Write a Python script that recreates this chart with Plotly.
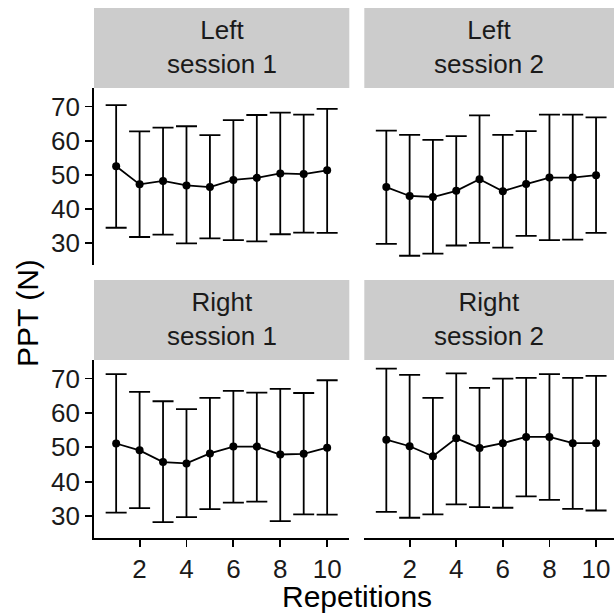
import plotly.graph_objects as go

W = H = 614

repetitions = list(range(1, 11))

strip_labels = ["Left<br>session 1", "Left<br>session 2", "Right<br>session 1", "Right<br>session 2"]

left_s1_mean = [52.5, 47.2, 48.2, 46.9, 46.4, 48.5, 49.1, 50.4, 50.2, 51.3]
left_s1_upper = [70.4, 62.7, 63.8, 64.2, 61.6, 66.0, 67.5, 68.2, 67.6, 69.3]
left_s1_lower = [34.5, 31.8, 32.5, 29.9, 31.4, 30.9, 30.5, 32.6, 33.1, 33.0]

left_s2_mean = [46.4, 43.8, 43.5, 45.3, 48.7, 45.2, 47.3, 49.2, 49.2, 49.9]
left_s2_upper = [62.9, 61.7, 60.2, 61.3, 67.4, 61.7, 62.8, 67.6, 67.6, 66.8]
left_s2_lower = [29.8, 26.3, 26.9, 29.3, 30.1, 28.7, 32.1, 30.9, 31.0, 33.0]

right_s1_mean = [51.1, 49.1, 45.7, 45.3, 48.2, 50.2, 50.2, 47.9, 48.1, 49.9]
right_s1_upper = [71.3, 66.1, 63.4, 61.1, 64.4, 66.4, 65.9, 67.0, 65.8, 69.5]
right_s1_lower = [31.0, 32.3, 28.2, 29.7, 32.0, 33.9, 34.2, 28.5, 30.5, 30.4]

right_s2_mean = [52.2, 50.3, 47.4, 52.6, 49.8, 51.2, 53.0, 53.0, 51.2, 51.2]
right_s2_upper = [72.9, 71.1, 64.4, 71.5, 67.3, 70.0, 70.2, 71.3, 70.2, 70.8]
right_s2_lower = [31.2, 29.5, 30.5, 33.4, 32.6, 32.4, 35.7, 34.7, 32.1, 31.6]

y_ticks = [30, 40, 50, 60, 70]
x_ticks = [2, 4, 6, 8, 10]

series = [
    (left_s1_mean, left_s1_upper, left_s1_lower),
    (left_s2_mean, left_s2_upper, left_s2_lower),
    (right_s1_mean, right_s1_upper, right_s1_lower),
    (right_s2_mean, right_s2_upper, right_s2_lower),
]

def px_x(p):
    return p / W

def px_y(p):
    return 1 - p / H

cols = [(94, 349.3), (364.3, 614)]
rows = [(88, 265), (360, 538)]
strips = [(8, 88), (280, 360)]
xranges = [[0.055, 10.945], [0.055, 10.77]]
yrange = [23.6, 75.4]

fig = go.Figure()
FONT = "Liberation Sans, Arial, sans-serif"

idx = 0
shapes = []
annotations = []
for r in range(2):
    for c in range(2):
        idx += 1
        mean, up, lo = series[idx - 1]
        plus = [u - m for u, m in zip(up, mean)]
        minus = [m - l for m, l in zip(mean, lo)]
        xa = "x" if idx == 1 else f"x{idx}"
        ya = "y" if idx == 1 else f"y{idx}"
        fig.add_trace(go.Scatter(
            x=repetitions, y=mean, mode="lines+markers",
            line=dict(color="black", width=1.8),
            marker=dict(color="black", size=8),
            error_y=dict(type="data", array=plus, arrayminus=minus, symmetric=False,
                         color="black", thickness=1.8, width=10.5),
            xaxis=xa, yaxis=ya, showlegend=False, cliponaxis=False,
            hoverinfo="skip",
        ))
        x0, x1 = cols[c]
        yt, yb = rows[r]
        bottom = (r == 1)
        left = (c == 0)
        xkey = "xaxis" if idx == 1 else f"xaxis{idx}"
        ykey = "yaxis" if idx == 1 else f"yaxis{idx}"
        fig.layout[xkey] = dict(
            domain=[px_x(x0), px_x(x1)], range=xranges[c], anchor=ya,
            showgrid=False, zeroline=False,
            showline=bottom, linecolor="black", linewidth=1.8,
            ticks="outside" if bottom else "", ticklen=7, tickwidth=1.8, tickcolor="black",
            tickvals=x_ticks, showticklabels=bottom,
            tickfont=dict(family=FONT, size=26, color="#1a1a1a"),
        )
        fig.layout[ykey] = dict(
            domain=[px_y(yb), px_y(yt)], range=yrange, anchor=xa,
            showgrid=False, zeroline=False,
            showline=left, linecolor="black", linewidth=1.8,
            ticks="outside" if left else "", ticklen=7, tickwidth=1.8, tickcolor="black",
            tickvals=y_ticks, showticklabels=left,
            tickfont=dict(family=FONT, size=26, color="#1a1a1a"),
        )
        st, sb = strips[r]
        shapes.append(dict(type="rect", xref="paper", yref="paper",
                           x0=px_x(x0), x1=px_x(x1), y0=px_y(sb), y1=px_y(st),
                           fillcolor="#CCCCCC", line=dict(width=0), layer="below"))
        cx = (x0 + x1) / 2 if c == 0 else (x0 + 618) / 2 - 2
        annotations.append(dict(text=strip_labels[idx - 1], xref="paper", yref="paper",
                                x=px_x(cx), y=px_y((st + sb) / 2 - 1),
                                xanchor="center", yanchor="middle", showarrow=False,
                                font=dict(family=FONT, size=26, color="#1a1a1a")))

annotations.append(dict(text="PPT (N)", xref="paper", yref="paper",
                        x=px_x(27), y=px_y(313), xanchor="center", yanchor="middle",
                        textangle=-90, showarrow=False,
                        font=dict(family=FONT, size=30, color="black")))
annotations.append(dict(text="Repetitions", xref="paper", yref="paper",
                        x=px_x(357), y=px_y(596), xanchor="center", yanchor="middle",
                        showarrow=False,
                        font=dict(family=FONT, size=30, color="black")))

fig.update_layout(
    width=W, height=H, margin=dict(l=0, r=0, t=0, b=0),
    paper_bgcolor="white", plot_bgcolor="white",
    shapes=shapes, annotations=annotations, hovermode=False,
)

fig.write_html(
    "out.html",
    config={"displayModeBar": False, "staticPlot": True},
    post_script="document.body.style.margin='0';document.body.style.overflow='hidden';",
)
